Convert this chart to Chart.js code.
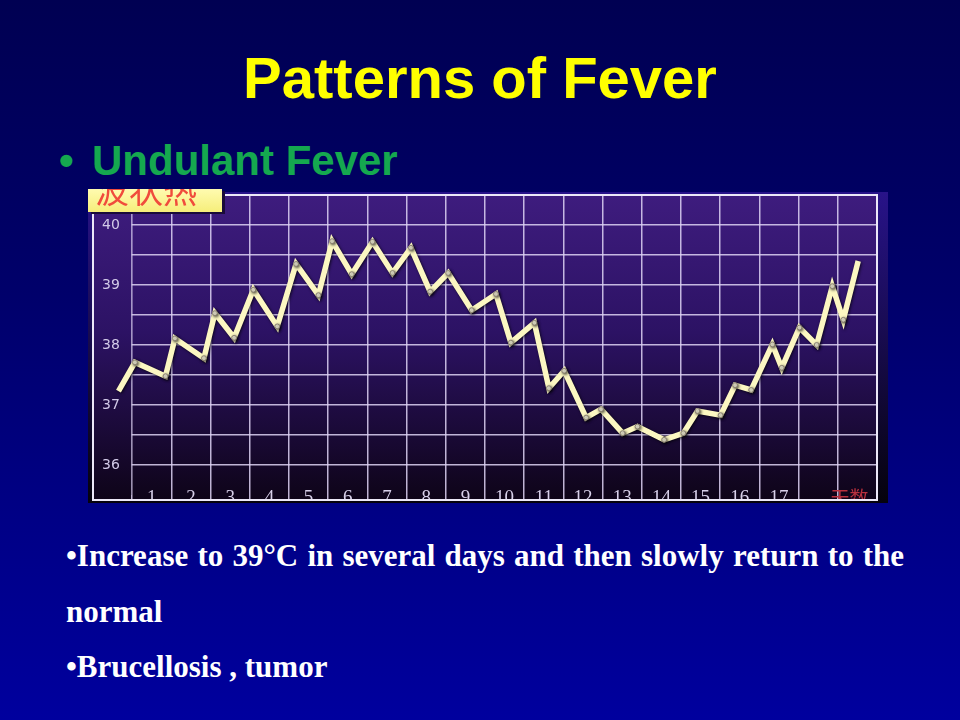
<!DOCTYPE html>
<html>
<head>
<meta charset="utf-8">
<title>Patterns of Fever</title>
<script src="https://cdn.jsdelivr.net/npm/chart.js@4"></script>
<style>
  html, body { margin: 0; padding: 0; }
  body {
    width: 960px; height: 720px; overflow: hidden; position: relative;
    background: linear-gradient(to bottom, #000052 0%, #00006a 40%, #00009e 100%);
    font-family: "Liberation Sans", Arial, sans-serif;
  }
  #title {
    position: absolute; left: 0; top: 49px; width: 960px; text-align: center;
    font-size: 58px; line-height: 58px; font-weight: bold; color: #ffff00;
  }
  #sub {
    position: absolute; left: 59px; top: 140px; white-space: nowrap;
    font-size: 42px; line-height: 42px; font-weight: bold; color: #15a84f;
  }
  #sub .dot { display: inline-block; width: 33px; }
  #chartBox { position: absolute; left: 88px; top: 190px; width: 800px; height: 313px; }
  #tag {
    position: absolute; left: 88px; top: 189px; width: 134px; height: 23px; overflow: hidden;
    background: linear-gradient(#fffbb0, #f6ee7a);
    box-shadow: 3px 2px 0 #1a0b3a;
  }
  #tag span {
    position: absolute; left: 7px; top: -17px; white-space: nowrap;
    font-family: "Noto Sans CJK SC", sans-serif; font-size: 34px; line-height: 34px;
    color: #f04c3c;
  }
  .note {
    position: absolute; left: 66px;
    font-family: "Liberation Serif", "Times New Roman", serif;
    font-weight: bold; font-size: 31px; line-height: 31px; color: #ffffff;
  }
  #n1 { top: 540px; width: 838px; text-align: justify; text-align-last: justify; }
  #n2 { top: 596px; }
  #n3 { top: 651px; white-space: nowrap; }
</style>
</head>
<body>
<div id="title">Patterns of Fever</div>
<div id="sub"><span class="dot">•</span>Undulant Fever</div>
<div id="chartBox"><canvas id="fever"></canvas></div>
<div id="tag"><span>波状热</span></div>
<div class="note" id="n1">•Increase to 39°C in several days and then slowly return to the</div>
<div class="note" id="n2">normal</div>
<div class="note" id="n3">•Brucellosis , tumor</div>

<script>
// day numbers printed along the bottom
const days = [1, 2, 3, 4, 5, 6, 7, 8, 9, 10, 11, 12, 13, 14, 15, 16, 17];
const dayAxisLabel = '天数';
// temperature labels on the left (°C)
const tempLabels = [36, 37, 38, 39, 40];

// readings: position along the day axis and temperature
const readingDay = [0.65, 1.07, 1.85, 2.09, 2.83, 3.11, 3.60, 4.09, 4.70, 5.18,
                    5.75, 6.10, 6.60, 7.13, 7.64, 8.11, 8.60, 9.06, 9.66, 10.28,
                    10.66, 11.26, 11.63, 12.02, 12.58, 12.96, 13.51, 13.89, 14.57, 15.06,
                    15.42, 16.01, 16.38, 16.79, 17.33, 17.57, 18.02, 18.46, 18.86, 19.14,
                    19.52];
const readingTemp = [37.23, 37.71, 37.48, 38.11, 37.78, 38.53, 38.12, 38.92, 38.31, 39.35,
                     38.83, 39.73, 39.18, 39.72, 39.20, 39.62, 38.89, 39.20, 38.58, 38.85,
                     38.04, 38.37, 37.28, 37.57, 36.79, 36.93, 36.53, 36.64, 36.42, 36.53,
                     36.90, 36.83, 37.33, 37.25, 38.01, 37.62, 38.29, 38.00, 38.98, 38.42,
                     39.40];

const gridColor = 'rgba(222, 212, 245, 0.85)';

function plotFill(chart) {
  const a = chart.chartArea;
  const g = chart.ctx.createLinearGradient(0, a.top, 0, chart.scales.x.bottom);
  g.addColorStop(0, '#3e1c7e');
  g.addColorStop(0.45, '#2c1264');
  g.addColorStop(1, '#0e0418');
  return g;
}

// purple board, white frame, no horizontal rules in the label column
const board = {
  id: 'board',
  beforeDraw(chart) {
    const {ctx, width, height, chartArea: a, scales: {x}} = chart;
    ctx.save();
    const edge = ctx.createLinearGradient(0, 0, 0, height);
    edge.addColorStop(0, '#28138a');
    edge.addColorStop(1, '#05020c');
    ctx.fillStyle = edge;
    ctx.fillRect(0, 2, width, height - 2);
    ctx.fillStyle = plotFill(chart);
    ctx.fillRect(a.left, a.top, a.right - a.left, x.bottom - a.top);
    ctx.restore();
  },
  beforeDatasetsDraw(chart) {
    const {ctx, chartArea: a, scales: {x}} = chart;
    const c0 = x.getPixelForValue(0), c1 = x.getPixelForValue(1);
    ctx.save();
    ctx.fillStyle = plotFill(chart);
    ctx.fillRect(c0 + 1, a.top + 1, c1 - c0 - 2, a.bottom - a.top - 1);
    ctx.strokeStyle = '#ece8f8';
    ctx.lineWidth = 2;
    ctx.strokeRect(a.left, a.top, a.right - a.left, x.bottom - a.top);
    ctx.restore();
  },
  beforeDatasetDraw(chart) {
    const ctx = chart.ctx;
    ctx.save();
    ctx.shadowColor = 'rgba(0, 0, 0, 0.7)';
    ctx.shadowBlur = 3;
    ctx.shadowOffsetX = 1;
    ctx.shadowOffsetY = 1;
  },
  afterDatasetDraw(chart) {
    chart.ctx.restore();
  },
  afterDatasetsDraw(chart) {
    const {ctx, chartArea: a, scales: {x}} = chart;
    ctx.save();
    ctx.beginPath();
    ctx.rect(a.left + 1, a.top, a.right - a.left - 2, x.bottom - 1 - a.top);
    ctx.clip();
    ctx.textAlign = 'center';
    ctx.textBaseline = 'alphabetic';
    ctx.fillStyle = '#d8d0ea';
    ctx.font = '19px "Liberation Serif", serif';
    days.forEach(d => ctx.fillText(String(d), x.getPixelForValue(d + 0.5), x.bottom + 3));
    ctx.fillStyle = '#b8303e';
    ctx.font = '19px "Noto Sans CJK SC", sans-serif';
    ctx.fillText(dayAxisLabel, x.getPixelForValue(19.3), x.bottom + 5);
    ctx.restore();
  }
};

new Chart(document.getElementById('fever'), {
  type: 'line',
  data: {
    datasets: [{
      data: readingDay.map((d, i) => ({x: d, y: readingTemp[i]})),
      borderColor: '#fcf7c2',
      borderWidth: 5.5,
      borderJoinStyle: 'miter',
      tension: 0,
      pointRadius: c => (c.dataIndex === 0 || c.dataIndex === readingDay.length - 1) ? 0 : 2.4,
      pointBackgroundColor: '#fffce0',
      pointBorderColor: '#8a8070',
      pointBorderWidth: 1
    }]
  },
  options: {
    responsive: true,
    maintainAspectRatio: false,
    animation: false,
    layout: {padding: {left: 5, right: 11, top: 5, bottom: 3}},
    plugins: {legend: {display: false}, tooltip: {enabled: false}},
    scales: {
      x: {
        type: 'linear', min: 0, max: 20,
        ticks: {stepSize: 1, display: false, autoSkip: false},
        grid: {color: gridColor, lineWidth: 1.5, drawTicks: true, tickLength: 5},
        border: {display: false},
        afterFit: s => { s.height = 5; s.paddingLeft = 0; s.paddingRight = 0; }
      },
      y: {
        min: 35.5, max: 40.5,
        ticks: {
          stepSize: 0.5, mirror: true, padding: 9, z: 1, autoSkip: false,
          color: '#d2cae8', font: {family: 'DejaVu Sans', size: 14},
          callback: v => tempLabels.includes(v) ? String(v) : ''
        },
        grid: {
          color: c => (c.tick && c.tick.value < tempLabels[0]) ? 'rgba(0,0,0,0)' : gridColor,
          lineWidth: 1.5, drawTicks: false
        },
        border: {display: false},
        afterFit: s => { s.width = 0; s.paddingTop = 0; s.paddingBottom = 0; }
      }
    }
  },
  plugins: [board]
});
</script>
</body>
</html>
